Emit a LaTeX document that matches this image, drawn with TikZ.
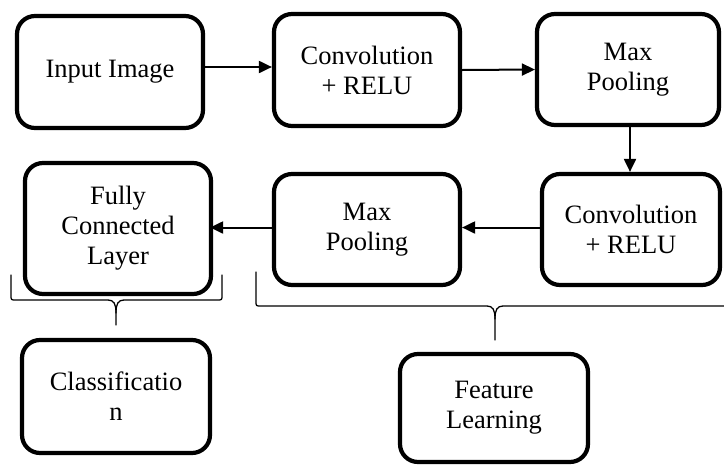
\documentclass[tikz,border=0pt]{standalone}
\usepackage{fontspec}
\setmainfont{Liberation Serif}
\usetikzlibrary{arrows.meta,calc}

\begin{document}
\begin{tikzpicture}[x=1pt,y=-1pt,
  stage/.style={draw=black, line width=4.2pt, rounded corners=18pt,
    fill=white, align=center, inner sep=0pt, text=black,
    font=\fontsize{26.5}{30}\selectfont},
  flow/.style={line width=2pt, -{Triangle[length=13pt,width=12pt]}},
  brace/.style={line width=1.3pt, line cap=round, line join=round}]
  \useasboundingbox (0,0) rectangle (724,464);

  % first row
  \node[stage, minimum width=186pt, minimum height=112pt] (inp)   at (110,72)    {Input Image};
  \node[stage, minimum width=186pt, minimum height=112pt] (conv1) at (367,70)    {Convolution\\+ RELU};
  \node[stage, minimum width=182pt, minimum height=111pt] (pool1) at (628,69.5)  {Max\\Pooling};

  % second row
  \node[stage, minimum width=178pt, minimum height=111pt] (conv2) at (631,229.5) {Convolution\\+ RELU};
  \node[stage, minimum width=186pt, minimum height=111pt] (pool2) at (367,229.5) {Max\\Pooling};
  \node[stage, minimum width=186pt, minimum height=131pt] (fc)    at (118,228.5) {Fully\\Connected\\Layer};

  % group labels
  \node[stage, minimum width=188pt, minimum height=113pt] (cls)   at (116,396.5) {Classificatio\\n};
  \node[stage, minimum width=188pt, minimum height=108pt] (feat)  at (494,408)   {Feature\\Learning};

  % data flow
  \draw[flow] ($(inp.east)+(0,-5)$) -- ($(conv1.west)+(0,-3)$);
  \draw[flow] (conv1.east) -- (pool1.west);
  \draw[flow] ($(pool1.south)+(2,0)$) -- ($(conv2.north)+(-1,0)$);
  \draw[flow] ($(conv2.west)+(0,-2)$) -- ($(pool2.east)+(0,-2)$);
  \draw[flow] ($(pool2.west)+(0,-2)$) -- ($(fc.east)+(-3,-1)$);

  % brace grouping the classifier
  \coordinate (lb) at (116,325);
  \draw[brace] (11,275) -- (11,295) .. controls (11,300) .. (16,300)
    -- (108,300) .. controls (114,300) and (116,304) .. (116,313) -- (lb);
  \draw[brace] (116,313) .. controls (116,304) and (118,300) .. (124,300)
    -- (217,300) .. controls (222,300) .. (222,295) -- (222,275);

  % brace grouping the feature extractor
  \coordinate (rb) at (495,340);
  \draw[brace] (256,272) -- (256,301) .. controls (256,306) .. (261,306)
    -- (487,306) .. controls (493,306) and (495,310) .. (495,319) -- (rb);
  \draw[brace] (495,319) .. controls (495,310) and (497,306) .. (503,306)
    -- (730,306);
\end{tikzpicture}
\end{document}
